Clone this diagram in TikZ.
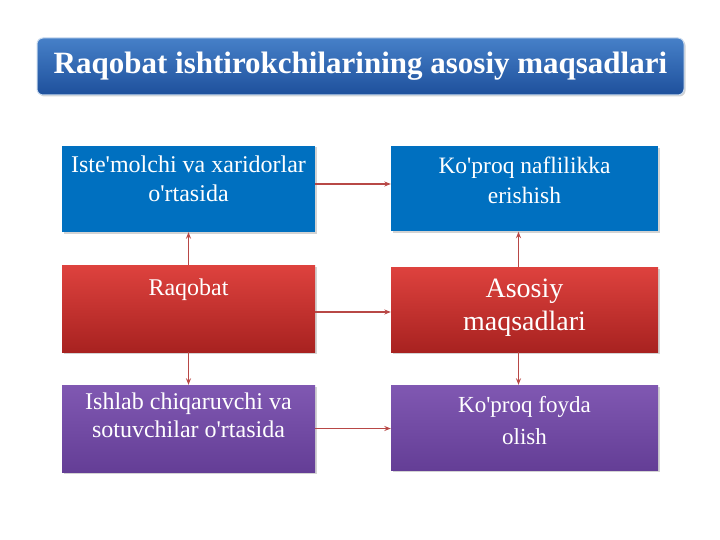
\documentclass[tikz,border=0pt]{standalone}
\usepackage{fontspec}
\setmainfont{Liberation Serif}
\usetikzlibrary{arrows.meta}
\usetikzlibrary{shadows}

\definecolor{boxblue}{RGB}{0,112,192}
\definecolor{redtop}{RGB}{222,66,62}
\definecolor{redbot}{RGB}{168,34,32}
\definecolor{purtop}{RGB}{128,88,178}
\definecolor{purbot}{RGB}{100,62,150}
\definecolor{titletop}{RGB}{70,128,200}
\definecolor{titlebot}{RGB}{30,80,156}
\definecolor{linkred}{RGB}{184,72,70}

\newcommand{\ap}{\textquotesingle}

\tikzset{
	goalbox/.style={draw=none,minimum height=86pt,inner sep=0pt,
		drop shadow={shadow xshift=1.5pt,shadow yshift=-1.5pt,opacity=0.35}},
	bluebox/.style={goalbox,fill=boxblue},
	redbox/.style={goalbox,top color=redtop,bottom color=redbot},
	purplebox/.style={goalbox,top color=purtop,bottom color=purbot},
	boxtext/.style={text=white,align=center,font=\fontsize{24}{29}\selectfont,inner sep=0pt},
	link/.style={draw=linkred,line width=1.1pt,-{Stealth[length=6.5pt,width=5pt]}}
}

\begin{document}
\begin{tikzpicture}[x=1pt,y=-1pt]
	\useasboundingbox (0,0) rectangle (720,540);

	\node (title) [draw=white!70!titletop,line width=1pt,rounded corners=6pt,
		top color=titletop,bottom color=titlebot,minimum width=647pt,minimum height=57pt,
		drop shadow={shadow xshift=1.5pt,shadow yshift=-1.5pt,opacity=0.35},
		text=white,font=\bfseries\fontsize{31}{34}\selectfont] at (360.5,66.5)
		{Raqobat ishtirokchilarining asosiy maqsadlari};

	\node (ist) [bluebox,minimum width=253pt] at (188.5,189) {};
	\node (isttext) [boxtext,below] at ([yshift=-10pt]ist.north) {Iste\ap molchi va xaridorlar\\o\ap rtasida};
	\node (naf) [bluebox,minimum width=267pt,minimum height=85pt] at (524.5,189) {};
	\node (naftext) [boxtext,below,font=\fontsize{23.5}{30}\selectfont] at ([yshift=-10pt]naf.north) {Ko\ap proq naflilikka\\erishish};

	\node (raq) [redbox,minimum width=253pt,minimum height=87pt] at (188.5,308.5) {};
	\node (raqtext) [boxtext,below] at ([yshift=-14pt]raq.north) {Raqobat};
	\node (aso) [redbox,minimum width=267pt,minimum height=85pt] at (524.5,309.5) {};
	\node (asotext) [boxtext,below,font=\fontsize{28}{33}\selectfont] at ([yshift=-12pt]aso.north) {Asosiy\\maqsadlari};

	\node (ish) [purplebox,minimum width=253pt,minimum height=87pt] at (188.5,428.5) {};
	\node (ishtext) [boxtext,below,font=\fontsize{24}{28}\selectfont] at ([yshift=-8pt]ish.north) {Ishlab chiqaruvchi va\\sotuvchilar o\ap rtasida};
	\node (foy) [purplebox,minimum width=267pt,minimum height=85pt] at (524.5,427.5) {};
	\node (foytext) [boxtext,below,font=\fontsize{23}{32}\selectfont] at ([yshift=-11pt]foy.north) {Ko\ap proq foyda\\olish};

	% connectors
	\draw[link] ([yshift=5pt]ist.east) -- ([yshift=5pt]ist.east -| naf.west);
	\draw[link] ([yshift=-3.5pt]raq.east) -- ([yshift=-3.5pt]raq.east -| aso.west);
	\draw[link] (ish.east) -- (ish.east -| foy.west);
	\draw[link] (raq.north) -- (ist.south);
	\draw[link] (raq.south) -- (ish.north);
	\draw[link] ([xshift=-6pt]aso.north) -- ([xshift=-6pt]naf.south);
	\draw[link] ([xshift=-6pt]aso.south) -- ([xshift=-6pt]foy.north);
\end{tikzpicture}
\end{document}
